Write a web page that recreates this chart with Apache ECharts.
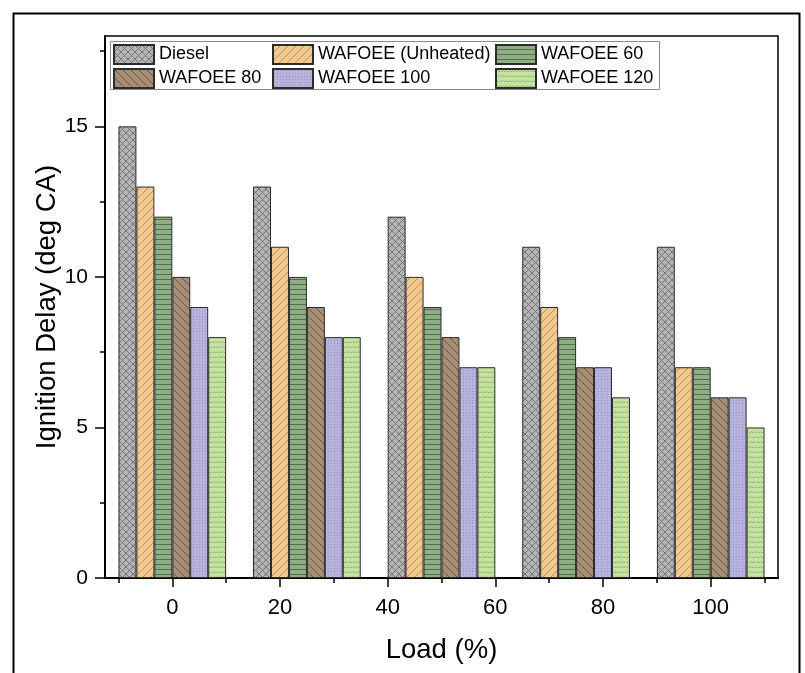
<!DOCTYPE html>
<html>
<head>
<meta charset="utf-8">
<script src="https://cdn.jsdelivr.net/npm/echarts@6/dist/echarts.min.js"></script>
<style>html,body{margin:0;padding:0;background:#fff;}#c{width:805px;height:673px;}</style>
</head>
<body>
<div id="c"></div>
<script>
// ---- data ----
const loads = [0, 25, 50, 75, 100];
const seriesNames = ['Diesel', 'WAFOEE (Unheated)', 'WAFOEE 60', 'WAFOEE 80', 'WAFOEE 100', 'WAFOEE 120'];
const diesel = [15, 13, 12, 11, 11];
const unheated = [13, 11, 10, 9, 7];
const w60 = [12, 10, 9, 8, 7];
const w80 = [10, 9, 8, 7, 6];
const w100 = [9, 8, 7, 7, 6];
const w120 = [8, 8, 7, 6, 5];
const xMajorTicks = [0, 20, 40, 60, 80, 100];
const xMinorTicks = [-10, 10, 30, 50, 70, 90, 110];
const yMajorTicks = [0, 5, 10, 15];
const yMinorTicks = [2.5, 7.5, 12.5, 17.5];

// ---- patterns ----
function mk(w, h, draw) {
  const c = document.createElement('canvas'); c.width = w; c.height = h;
  const g = c.getContext('2d'); draw(g, w, h); return c;
}
const patDiesel = mk(7, 7, (g, w, h) => {
  g.fillStyle = '#b5b5b5'; g.fillRect(0, 0, w, h);
  g.strokeStyle = '#747474'; g.lineWidth = 1;
  g.beginPath(); g.moveTo(0, 0); g.lineTo(w, h); g.moveTo(0, h); g.lineTo(w, 0); g.stroke();
});
const patUnheated = mk(8, 8, (g, w, h) => {
  g.fillStyle = '#f2c98e'; g.fillRect(0, 0, w, h);
  g.strokeStyle = '#bf9158'; g.lineWidth = 1;
  g.beginPath(); g.moveTo(0, h); g.lineTo(w, 0); g.moveTo(-2, 2); g.lineTo(2, -2); g.moveTo(w - 2, h + 2); g.lineTo(w + 2, h - 2); g.stroke();
});
const pat60 = mk(4, 5, (g, w, h) => {
  g.fillStyle = '#8fae86'; g.fillRect(0, 0, w, h);
  g.fillStyle = '#4f6f4a'; g.fillRect(0, 4, w, 1);
});
const pat80 = mk(8, 8, (g, w, h) => {
  g.fillStyle = '#a68e76'; g.fillRect(0, 0, w, h);
  g.strokeStyle = '#6e5844'; g.lineWidth = 1;
  g.beginPath(); g.moveTo(0, 0); g.lineTo(w, h); g.moveTo(-2, h - 2); g.lineTo(2, h + 2); g.moveTo(w - 2, -2); g.lineTo(w + 2, 2); g.stroke();
});
const pat100 = mk(3, 3, (g, w, h) => {
  g.fillStyle = '#b7b3dd'; g.fillRect(0, 0, w, h);
  g.fillStyle = '#9792c6'; g.fillRect(1, 1, 1, 1);
});
const pat120 = mk(6, 5, (g, w, h) => {
  g.fillStyle = '#c6e2a2'; g.fillRect(0, 0, w, h);
  g.strokeStyle = '#93bb6c'; g.lineWidth = 1;
  g.beginPath(); g.moveTo(0, 3); g.lineTo(1.5, 1.5); g.lineTo(3, 3); g.lineTo(4.5, 1.5); g.lineTo(6, 3); g.stroke();
});
const pats = [patDiesel, patUnheated, pat60, pat80, pat100, pat120];
const vals = [diesel, unheated, w60, w80, w100, w120];

const chart = echarts.init(document.getElementById('c'), null, { renderer: 'canvas' });
const gridRect = { left: 105, right: 27, top: 36, bottom: 95 };
const font = 'Liberation Sans, Arial, sans-serif';

const series = seriesNames.map((n, i) => ({
  name: n,
  type: 'bar',
  xAxisIndex: 0, yAxisIndex: 0,
  barWidth: '13.333%',
  barGap: '0%',
  data: loads.map((x, k) => [x, vals[i][k]]),
  itemStyle: { color: { image: pats[i], repeat: 'repeat' }, borderColor: '#2b2b2b', borderWidth: 1 },
  emphasis: { disabled: true }
}));

const legendBase = {
  orient: 'vertical', top: 44, padding: 0, itemWidth: 40, itemHeight: 19, itemGap: 3, icon: 'rect',
  textStyle: { fontFamily: font, fontSize: 18, color: '#000' }, selectedMode: false
};

chart.setOption({
  backgroundColor: '#fff',
  animation: false,
  grid: [
    Object.assign({ show: true, borderColor: '#000', borderWidth: 1.5, backgroundColor: 'transparent' }, gridRect),
    Object.assign({ show: false }, gridRect)
  ],
  legend: [
    Object.assign({ left: 113, data: ['Diesel', 'WAFOEE 80'] }, legendBase),
    Object.assign({ left: 272, data: ['WAFOEE (Unheated)', 'WAFOEE 100'] }, legendBase),
    Object.assign({ left: 495, data: ['WAFOEE 60', 'WAFOEE 120'] }, legendBase)
  ],
  xAxis: [
    {
      type: 'value', gridIndex: 0, min: -12.5, max: 112.5,
      name: 'Load (%)', nameLocation: 'middle', nameGap: 58, nameMoveOverlap: false,
      nameTextStyle: { fontFamily: font, fontSize: 27.5, color: '#000' },
      axisLine: { show: true, onZero: false, lineStyle: { color: '#000', width: 2 } },
      axisTick: { show: true, customValues: xMajorTicks, length: 9, lineStyle: { color: '#000', width: 1.5 } },
      axisLabel: { customValues: xMajorTicks, margin: 19, fontFamily: font, fontSize: 22, color: '#000' },
      splitLine: { show: false }
    },
    {
      type: 'value', gridIndex: 1, min: -12.5, max: 112.5,
      axisLine: { show: false, onZero: false },
      axisTick: { show: true, customValues: xMinorTicks, length: 5, lineStyle: { color: '#000', width: 1.5 } },
      axisLabel: { show: false }, splitLine: { show: false }
    }
  ],
  yAxis: [
    {
      type: 'value', gridIndex: 0, min: 0, max: 18,
      name: 'Ignition Delay (deg CA)', nameLocation: 'middle', nameGap: 44, nameMoveOverlap: false,
      nameTextStyle: { fontFamily: font, fontSize: 27.5, color: '#000' },
      axisLine: { show: true, onZero: false, lineStyle: { color: '#000', width: 2 } },
      axisTick: { show: true, customValues: yMajorTicks, length: 10, lineStyle: { color: '#000', width: 1.5 } },
      axisLabel: { customValues: yMajorTicks, margin: 17, fontFamily: font, fontSize: 21, color: '#000' },
      splitLine: { show: false }
    },
    {
      type: 'value', gridIndex: 1, min: 0, max: 18,
      axisLine: { show: false, onZero: false },
      axisTick: { show: true, customValues: yMinorTicks, length: 5, lineStyle: { color: '#000', width: 1.5 } },
      axisLabel: { show: false }, splitLine: { show: false }
    }
  ],
  graphic: [
    { type: 'rect', left: 11, top: 11, shape: { width: 786, height: 700 }, style: { fill: 'none', stroke: '#000', lineWidth: 2 }, z: 100, silent: true },
    { type: 'rect', left: 110, top: 41, shape: { width: 549, height: 48 }, style: { fill: '#fff', stroke: '#8a8a8a', lineWidth: 1 }, z: 1, silent: true }
  ],
  series: series
});
</script>
</body>
</html>
